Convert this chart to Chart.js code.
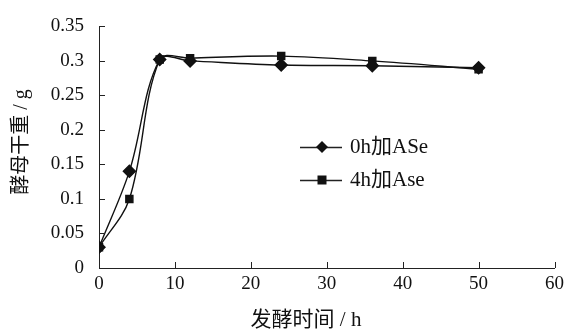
<!DOCTYPE html>
<html lang="zh">
<head>
<meta charset="UTF-8" />
<title>发酵时间与酵母干重</title>
<script src="https://cdn.jsdelivr.net/npm/chart.js@4/dist/chart.umd.min.js"></script>
<style>
  html, body { margin: 0; padding: 0; background: #fff; }
  #wrap { width: 569px; height: 331px; }
</style>
</head>
<body>
<div id="wrap"><canvas id="c"></canvas></div>
<script>
  // fermentation time (h)
  const hours = [0, 4, 8, 12, 24, 36, 50];
  // yeast dry weight (g)
  const ase0h = [0.03, 0.14, 0.302, 0.300, 0.294, 0.293, 0.290];
  const ase4h = [0.03, 0.10, 0.302, 0.304, 0.307, 0.300, 0.288];
  const seriesNames = ["0h加ASe", "4h加Ase"];
  const xTicks = [0, 10, 20, 30, 40, 50, 60];
  const yTicks = [0, 0.05, 0.1, 0.15, 0.2, 0.25, 0.3, 0.35];

  const FONT = '"Liberation Serif", "Noto Sans CJK SC", serif';

  const toXY = (ys) => hours.map((h, i) => ({ x: h, y: ys[i] }));

  // inside ticks, axis titles and the line+marker legend
  const decor = {
    id: "decor",
    afterDraw(chart) {
      const ctx = chart.ctx;
      const xs = chart.scales.x, ys = chart.scales.y;
      const a = chart.chartArea;
      ctx.save();
      ctx.strokeStyle = "#222";
      ctx.lineWidth = 1;
      ctx.beginPath();
      xTicks.forEach((t) => {
        const px = Math.round(xs.getPixelForValue(t)) + 0.5;
        ctx.moveTo(px, a.bottom);
        ctx.lineTo(px, a.bottom - 6);
      });
      yTicks.forEach((t) => {
        const py = Math.round(ys.getPixelForValue(t)) + 0.5;
        ctx.moveTo(a.left, py);
        ctx.lineTo(a.left + 6, py);
      });
      ctx.stroke();

      ctx.fillStyle = "#111";
      ctx.textAlign = "center";
      ctx.textBaseline = "middle";
      ctx.font = "21px " + FONT;
      ctx.fillText("发酵时间 / h", 306, 320);
      ctx.save();
      ctx.translate(22, 142);
      ctx.rotate(-Math.PI / 2);
      ctx.font = "20px " + FONT;
      ctx.fillText("酵母干重 / g", 0, 0);
      ctx.restore();

      // legend
      const rows = [
        { y: 147, style: "diamond" },
        { y: 180, style: "square" },
      ];
      ctx.font = "21px " + FONT;
      rows.forEach((r, i) => {
        ctx.beginPath();
        ctx.moveTo(300, r.y + 0.5);
        ctx.lineTo(342, r.y + 0.5);
        ctx.lineWidth = 1.3;
        ctx.stroke();
        ctx.beginPath();
        if (r.style === "diamond") {
          ctx.moveTo(322, r.y - 6);
          ctx.lineTo(328, r.y);
          ctx.lineTo(322, r.y + 6);
          ctx.lineTo(316, r.y);
          ctx.closePath();
        } else {
          ctx.rect(317.5, r.y - 4.5, 9, 9);
        }
        ctx.fill();
        ctx.textAlign = "left";
        ctx.fillText(seriesNames[i], 350, r.y);
      });
      ctx.restore();
    },
  };

  new Chart(document.getElementById("c"), {
    type: "line",
    data: {
      datasets: [
        {
          label: seriesNames[0],
          data: toXY(ase0h),
          borderColor: "#111",
          backgroundColor: "#111",
          borderWidth: 1.4,
          pointStyle: "rectRot",
          pointRadius: 6,
          pointHoverRadius: 6,
          tension: 0.35,
        },
        {
          label: seriesNames[1],
          data: toXY(ase4h),
          borderColor: "#111",
          backgroundColor: "#111",
          borderWidth: 1.4,
          pointStyle: "rect",
          pointRadius: 5,
          pointHoverRadius: 5,
          tension: 0.35,
        },
      ],
    },
    options: {
      responsive: true,
      maintainAspectRatio: false,
      animation: false,
      layout: { autoPadding: false, padding: { top: 19, right: 12, left: 0, bottom: 0 } },
      plugins: { legend: { display: false }, tooltip: { enabled: false } },
      scales: {
        x: {
          type: "linear",
          min: 0,
          max: 60,
          afterFit: (s) => { s.height = 63; },
          afterBuildTicks: (s) => { s.ticks = xTicks.map((v) => ({ value: v })); },
          grid: { display: false, drawTicks: false },
          border: { display: true, color: "#222", width: 1 },
          ticks: { color: "#111", font: { family: FONT, size: 19 }, padding: 5, maxRotation: 0 },
        },
        y: {
          min: 0,
          max: 0.35,
          afterFit: (s) => { s.width = 99; },
          afterBuildTicks: (s) => { s.ticks = yTicks.map((v) => ({ value: v })); },
          grid: { display: false, drawTicks: false },
          border: { display: true, color: "#222", width: 1 },
          ticks: {
            color: "#111",
            font: { family: FONT, size: 19 },
            padding: 15,
            callback: (v) => String(+v.toFixed(2)),
          },
        },
      },
    },
    plugins: [decor],
  });
</script>
</body>
</html>
